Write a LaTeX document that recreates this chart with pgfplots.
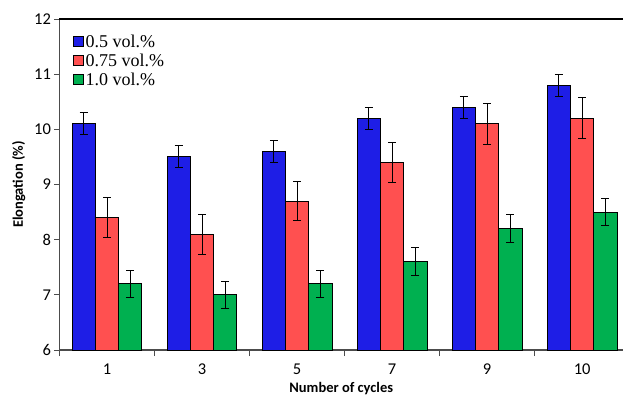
\documentclass[border=0pt]{standalone}
\usepackage{fontspec}
\setmainfont{Carlito}
\newfontfamily\legfont{Liberation Serif}
\usepackage{pgfplots}
\pgfplotsset{compat=1.18}
\definecolor{cblue}{RGB}{30,30,230}
\definecolor{cred}{RGB}{255,80,80}
\definecolor{cgreen}{RGB}{0,176,80}
\begin{document}
\begin{tikzpicture}
\begin{axis}[
  scale only axis, width=563.5pt, height=331pt,
  xmin=-0.5, xmax=5.43, ymin=6, ymax=12,
  axis x line=bottom, axis y line=left,
  axis line style={-, draw=gray!60!black, line width=1.3pt},
  xtick={0,...,5}, xticklabels={1,3,5,7,9,10},
  major x tick style={draw=none},
  minor xtick={-0.5,0.5,...,4.5},
  minor tick length=6pt, major tick length=5pt,
  tick align=outside,
  tick style={gray!60!black, line width=0.8pt},
  ytick={6,...,12},
  /pgf/number format/assume math mode=true,
  tick label style={font=\fontsize{16.5}{18}\selectfont},
  xticklabel style={yshift=-5pt},
  xlabel={\textbf{Number of cycles}},
  ylabel={\textbf{Elongation (\%)}},
  xlabel style={font=\fontsize{14.5}{16}\selectfont, yshift=-1pt},
  ylabel style={font=\fontsize{14.5}{16}\selectfont, yshift=2pt},
  ybar, bar width=23.3pt,
  clip=false,
  legend style={at={(0.022,0.962)}, anchor=north west, draw=none, fill=none,
    font=\legfont\fontsize{18}{20}\selectfont, row sep=1pt, inner sep=1pt},
  legend cell align=left,
  legend image code/.code={\draw[#1, line width=0.6pt] (0pt,-5pt) rectangle (10pt,5pt);},
  error bars/error bar style={black, line width=1pt},
  error bars/error mark options={rotate=90, mark size=4pt, line width=1pt, black},
]
\coordinate (ll) at (rel axis cs:0,0);
\addplot[fill=cblue, draw=black, line width=1pt, bar shift=-23.3pt,
  error bars/.cd, y dir=both, y explicit]
  coordinates {(0,10.1) +- (0,0.2) (1,9.5) +- (0,0.2) (2,9.6) +- (0,0.2)
               (3,10.2) +- (0,0.2) (4,10.4) +- (0,0.2) (5,10.8) +- (0,0.2)};
\addplot[fill=cred, draw=black, line width=1pt, bar shift=0pt,
  error bars/.cd, y dir=both, y explicit]
  coordinates {(0,8.4) +- (0,0.36) (1,8.1) +- (0,0.36) (2,8.7) +- (0,0.36)
               (3,9.4) +- (0,0.37) (4,10.1) +- (0,0.37) (5,10.2) +- (0,0.37)};
\addplot[fill=cgreen, draw=black, line width=1pt, bar shift=23.3pt,
  error bars/.cd, y dir=both, y explicit]
  coordinates {(0,7.2) +- (0,0.25) (1,7.0) +- (0,0.25) (2,7.2) +- (0,0.25)
               (3,7.6) +- (0,0.25) (4,8.2) +- (0,0.25) (5,8.5) +- (0,0.25)};
\legend{0.5 vol.\%, 0.75 vol.\%, 1.0 vol.\%}
\draw[black, line width=2pt] (rel axis cs:0,1) -- (rel axis cs:1,1);
\end{axis}
\pgfresetboundingbox
\path ([shift={(-59.5pt,-49pt)}]ll) rectangle ([shift={(563.5pt,350pt)}]ll);
\end{tikzpicture}
\end{document}
